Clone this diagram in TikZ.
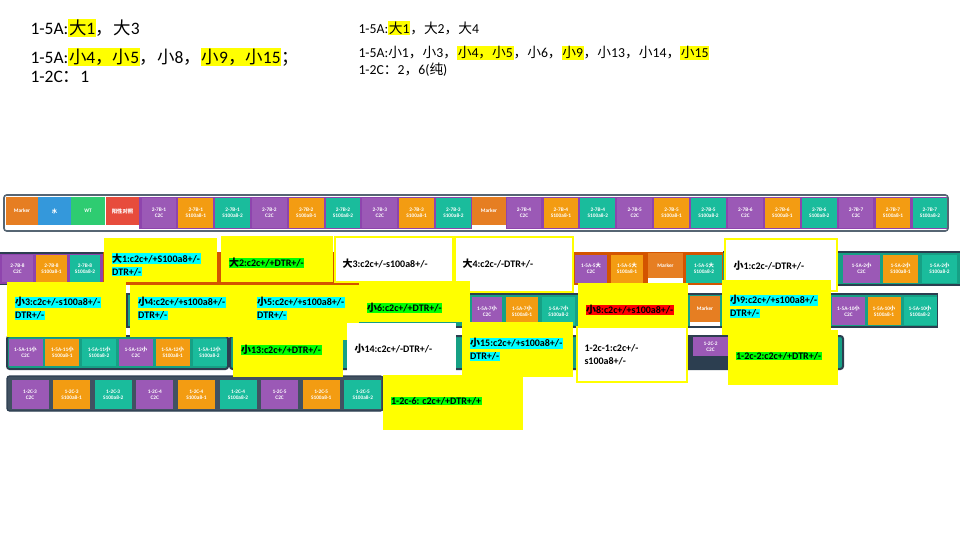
\documentclass[tikz,border=0pt]{standalone}
\usepackage{fontspec}
\setmainfont{Carlito}
\newfontfamily\cjk{Noto Sans CJK SC}
\newcommand\zhda{{\cjk 大}}
\newcommand\zhxiao{{\cjk 小}}
\newcommand\zhcm{{\cjk ，}}
\newcommand\zhcolon{{\cjk ：}}
\newcommand\zhsemi{{\cjk ；}}

\definecolor{tPurple}{HTML}{9B59B6}
\definecolor{tOrange}{HTML}{F39C12}
\definecolor{tTeal}{HTML}{1ABC9C}
\definecolor{tMarker}{HTML}{E67E22}
\definecolor{tBlue}{HTML}{3498DB}
\definecolor{tGreen}{HTML}{2ECC71}
\definecolor{tRed}{HTML}{E74C3C}
\definecolor{bPurple}{HTML}{8E44AD}
\definecolor{bRust}{HTML}{D35400}
\definecolor{bTeal}{HTML}{16A085}
\definecolor{bSlate}{HTML}{2C3E50}
\definecolor{hlCyan}{HTML}{00FFFF}
\definecolor{hlGreen}{HTML}{00FF00}
\definecolor{hlRed}{HTML}{FF0000}
\definecolor{hlYellow}{HTML}{FFFF00}

\setlength\fboxsep{0.5pt}
\newcommand\hly[1]{\colorbox{hlYellow}{#1}}
\newcommand\hlc[1]{\colorbox{hlCyan}{#1}}
\newcommand\hlg[1]{\colorbox{hlGreen}{#1}}
\newcommand\hlr[1]{\colorbox{hlRed}{#1}}

\tikzset{every picture/.style={line width=0.75pt}}
\tikzset{
  tile/.style={inner sep=0pt, minimum width=26pt, minimum height=22pt, text=white, align=center, font=\fontsize{4}{4.6}\selectfont\bfseries},
  c2c/.style={tile, fill=tPurple},
  sa/.style={tile, fill=tOrange},
  sb/.style={tile, fill=tTeal},
  marker/.style={tile, fill=tMarker},
  callout/.style={fill=hlYellow},
  blankout/.style={fill=white, draw=hlYellow, line width=0.8pt},
  ctext/.style={anchor=west, inner sep=0pt, align=left, font=\fontsize{7.5}{9.75}\selectfont\bfseries},
  bignote/.style={anchor=west, inner sep=0pt, font=\fontsize{13.1}{15}\selectfont},
  smallnote/.style={anchor=west, inner sep=0pt, font=\fontsize{10.3}{12}\selectfont},
}

\begin{document}
\begin{tikzpicture}[x=0.75pt,y=0.75pt,yscale=-1,xscale=1]
\useasboundingbox (0,0) rectangle (960,540);

% Text Node
\node[bignote] (noteL1) at (30,28) {1-5A:\hly{\zhda1}\zhcm\zhda3};
\node[bignote] (noteL2) at (30,57) {1-5A:\hly{\zhxiao4\zhcm\zhxiao5}\zhcm\zhxiao8\zhcm\hly{\zhxiao9\zhcm\zhxiao15}\zhsemi};
\node[bignote] (noteL3) at (30,77) {1-2C\zhcolon1};
% Text Node
\node[smallnote] (noteR1) at (358,28) {1-5A:\hly{\zhda1}\zhcm\zhda2\zhcm\zhda4};
\node[smallnote] (noteR2) at (358,53) {1-5A:\zhxiao1\zhcm\zhxiao3\zhcm\hly{\zhxiao4\zhcm\zhxiao5}\zhcm\zhxiao6\zhcm\hly{\zhxiao9}\zhcm\zhxiao13\zhcm\zhxiao14\zhcm\hly{\zhxiao15}};
\node[smallnote] (noteR3) at (358,70) {1-2C\zhcolon2\zhcm6({\cjk 纯})};

%Row 1
\draw[bSlate!80, line width=1.2pt, fill=white, rounded corners=2pt] (4,195) rectangle (948,231);
\fill[bPurple] (139,197) rectangle (472,229);
\fill[bPurple] (506,197) rectangle (947,229);
\node[marker, minimum width=24pt, minimum height=21pt] (r1mk) at (22,211) {Marker};
\node[tile, fill=tBlue, minimum width=24.75pt, minimum height=21pt] (r1water) at (54.5,211) {{\cjk 水}};
\node[tile, fill=tGreen, minimum width=25.5pt, minimum height=21pt] (r1wt) at (88,211) {WT};
\node[tile, fill=tRed, minimum width=24.75pt, minimum height=21pt] (r1pos) at (122.5,211) {{\cjk 阳性对照}};
\foreach \n [count=\i from 0] in {1,2,3} {
  \node[c2c] (t\n-c) at ({159+3*\i*36.8},213) {2-7B-\n\\C2C};
  \node[sa] (t\n-a) at ({159+(3*\i+1)*36.8},213) {2-7B-\n\\S100a8-1};
  \node[sb] (t\n-b) at ({159+(3*\i+2)*36.8},213) {2-7B-\n\\S100a8-2};
}
\node[marker, minimum width=25.5pt, minimum height=21pt] (r1mk2) at (489,211) {Marker};
\foreach \n [count=\i from 0] in {4,5,6,7} {
  \node[c2c] (t\n-c) at ({524+3*\i*36.9},213) {2-7B-\n\\C2C};
  \node[sa] (t\n-a) at ({524+(3*\i+1)*36.9},213) {2-7B-\n\\S100a8-1};
  \node[sb] (t\n-b) at ({524+(3*\i+2)*36.9},213) {2-7B-\n\\S100a8-2};
}

%Row 2
\fill[bSlate] (0,252) rectangle (104,285);
\fill[bPurple] (0,253.5) rectangle (103,283.5);
\fill[bRust] (103,252) rectangle (723,285);
\fill[bSlate] (723,251) rectangle (960,286);
\fill[bTeal] (723,253) rectangle (960,284);
\node[c2c, minimum width=23.5pt, minimum height=20.5pt] (t8-c) at (17.5,268.5) {2-7B-8\\C2C};
\node[sa, minimum width=23.5pt, minimum height=20.5pt] (t8-a) at (51.5,268.5) {2-7B-8\\S100a8-1};
\node[sb, minimum width=23pt, minimum height=20.5pt] (t8-b) at (85,268.5) {2-7B-8\\S100a8-2};
\node[c2c, minimum width=24pt, minimum height=21pt] (d5-c) at (591,268.5) {1-5A-5\zhda\\C2C};
\node[sa, minimum width=24pt, minimum height=21pt] (d5-a) at (627,268.5) {1-5A-5\zhda\\S100a8-1};
\fill[white] (648,277) rectangle (683,283);
\node[marker, minimum width=26pt, minimum height=18.75pt] (r2mk) at (665.5,265.5) {Marker};
\node[sb, minimum width=27pt, minimum height=21pt] (d5-b) at (704,268.5) {1-5A-5\zhda\\S100a8-2};
\node[c2c, minimum width=27.5pt, minimum height=21pt] (x2-c) at (861.5,268.5) {1-5A-2\zhxiao\\C2C};
\node[sa, minimum width=26pt, minimum height=21pt] (x2-a) at (900.5,268.5) {1-5A-2\zhxiao\\S100a8-1};
\node[sb, minimum width=26pt, minimum height=21pt] (x2-b) at (939.5,268.5) {1-5A-2\zhxiao\\S100a8-2};

%Row 3
\fill[bSlate] (126,293) rectangle (938,328);
\fill[bTeal] (127.5,295) rectangle (936.5,326);
\node[c2c, minimum width=22.5pt, minimum height=21pt] (x7-c) at (487,311) {1-5A-7\zhxiao\\C2C};
\node[sa, minimum width=24pt, minimum height=21pt] (x7-a) at (522,311) {1-5A-7\zhxiao\\S100a8-1};
\node[sb, minimum width=24.75pt, minimum height=21pt] (x7-b) at (558.5,311) {1-5A-7\zhxiao\\S100a8-2};
\fill[white] (690,321) rectangle (720,326);
\node[marker, minimum width=22.5pt, minimum height=19.5pt] (r3mk) at (705,309) {Marker};
\node[c2c, minimum width=24.75pt, minimum height=21pt] (x10-c) at (848.5,311) {1-5A-10\zhxiao\\C2C};
\node[sa, minimum width=24.75pt, minimum height=21pt] (x10-a) at (884,311) {1-5A-10\zhxiao\\S100a8-1};
\node[sb, minimum width=24.75pt, minimum height=21pt] (x10-b) at (920,311) {1-5A-10\zhxiao\\S100a8-2};

%Row 4
\draw[bSlate, fill=bTeal, line width=1.5pt, rounded corners=2pt] (7,336) rectangle (228,369);
\foreach \n [count=\i from 0] in {11,12} {
  \node[c2c, minimum width=25.5pt, minimum height=20.25pt] (x\n-c) at ({25.5+3*\i*36.8},352.5) {1-5A-\n\zhxiao\\C2C};
  \node[sa, minimum width=25.5pt, minimum height=20.25pt] (x\n-a) at ({25.5+(3*\i+1)*36.8},352.5) {1-5A-\n\zhxiao\\S100a8-1};
  \node[sb, minimum width=25.5pt, minimum height=20.25pt] (x\n-b) at ({25.5+(3*\i+2)*36.8},352.5) {1-5A-\n\zhxiao\\S100a8-2};
}
\draw[bSlate, fill=bTeal, line width=1.5pt, rounded corners=2pt] (230,336) rectangle (843,369);
\fill[bSlate] (688,336) rectangle (728,369);
\node[c2c, minimum width=26.25pt, minimum height=14pt] (c2-c) at (710.5,346.5) {1-2C-2\\C2C};

%Row 5
\draw[bSlate, fill=bSlate!90, line width=1pt, rounded corners=2pt] (7,376) rectangle (383,411);
\foreach \n [count=\i from 0] in {3,4,5} {
  \node[c2c, minimum width=27.75pt, minimum height=21.75pt] (c\n-c) at ({30+3*\i*41.6},394.5) {1-2C-\n\\C2C};
  \node[sa, minimum width=27.75pt, minimum height=21.75pt] (c\n-a) at ({30+(3*\i+1)*41.6},394.5) {1-2C-\n\\S100a8-1};
  \node[sb, minimum width=27.75pt, minimum height=21.75pt] (c\n-b) at ({30+(3*\i+2)*41.6},394.5) {1-2C-\n\\S100a8-2};
}

%Callouts
\fill[callout] (104,238) rectangle (217,282);
\node[ctext] (da1) at (111,264.5) {\hlc{\zhda1:c2c+/+S100a8+/-}\\\hlc{DTR+/-}};
\fill[callout] (221,236) rectangle (333,282);
\node[ctext] (da2) at (228,263) {\hlg{\zhda2:c2c+/+DTR+/-}};
\draw[blankout] (335,237) rectangle (453,282);
\node[ctext] (da3) at (342,264) {\zhda3:c2c+/-s100a8+/-};
\draw[blankout] (455,237) rectangle (573,292);
\node[ctext] (da4) at (462,264) {\zhda4:c2c-/-DTR+/-};
\draw[blankout] (725,239) rectangle (837,291);
\node[ctext] (xi1) at (733,266) {\zhxiao1:c2c-/-DTR+/-};
\fill[callout] (7,282) rectangle (126,337);
\node[ctext] (xi3) at (14,308.5) {\hlc{\zhxiao3:c2c+/-s100a8+/-}\\\hlc{DTR+/-}};
\fill[callout] (130,285) rectangle (248,337);
\node[ctext] (xi4) at (137,308.5) {\hlc{\zhxiao4:c2c+/+s100a8+/-}\\\hlc{DTR+/-}};
\fill[callout] (248,285) rectangle (359,340);
\node[ctext] (xi5) at (256,308.5) {\hlc{\zhxiao5:c2c+/+s100a8+/-}\\\hlc{DTR+/-}};
\fill[callout] (359,281) rectangle (470,322);
\node[ctext] (xi6) at (366,308) {\hlg{\zhxiao6:c2c+/+DTR+/-}};
\fill[callout] (578,283) rectangle (688,326);
\node[ctext] (xi8) at (585,310) {\hlr{\zhxiao8:c2c+/+s100a8+/-}};
\fill[callout] (722,280) rectangle (831,335);
\node[ctext] (xi9) at (729,306.5) {\hlc{\zhxiao9:c2c+/+s100a8+/-}\\\hlc{DTR+/-}};
\fill[callout] (233,322) rectangle (343,377);
\node[ctext] (xi13) at (240,350) {\hlg{\zhxiao13:c2c+/+DTR+/-}};
\fill[white] (347,323) rectangle (456,375);
\node[ctext] (xi14) at (354,349) {\zhxiao14:c2c+/-DTR+/-};
\fill[callout] (462,322) rectangle (573,377);
\node[ctext] (xi15) at (469,349.5) {\hlc{\zhxiao15:c2c+/+s100a8+/-}\\\hlc{DTR+/-}};
\draw[blankout] (577,327) rectangle (687,382);
\node[ctext] (ct1) at (584,354.5) {1-2c-1:c2c+/-\\s100a8+/-};
\fill[callout] (728,330) rectangle (838,385);
\node[ctext] (ct2) at (735,356) {\hlg{1-2c-2:c2c+/+DTR+/-}};
\fill[callout] (383,375) rectangle (523,430);
\node[ctext] (ct6) at (390,401) {\hlg{1-2c-6: c2c+/+DTR+/+}};

\end{tikzpicture}
\end{document}
